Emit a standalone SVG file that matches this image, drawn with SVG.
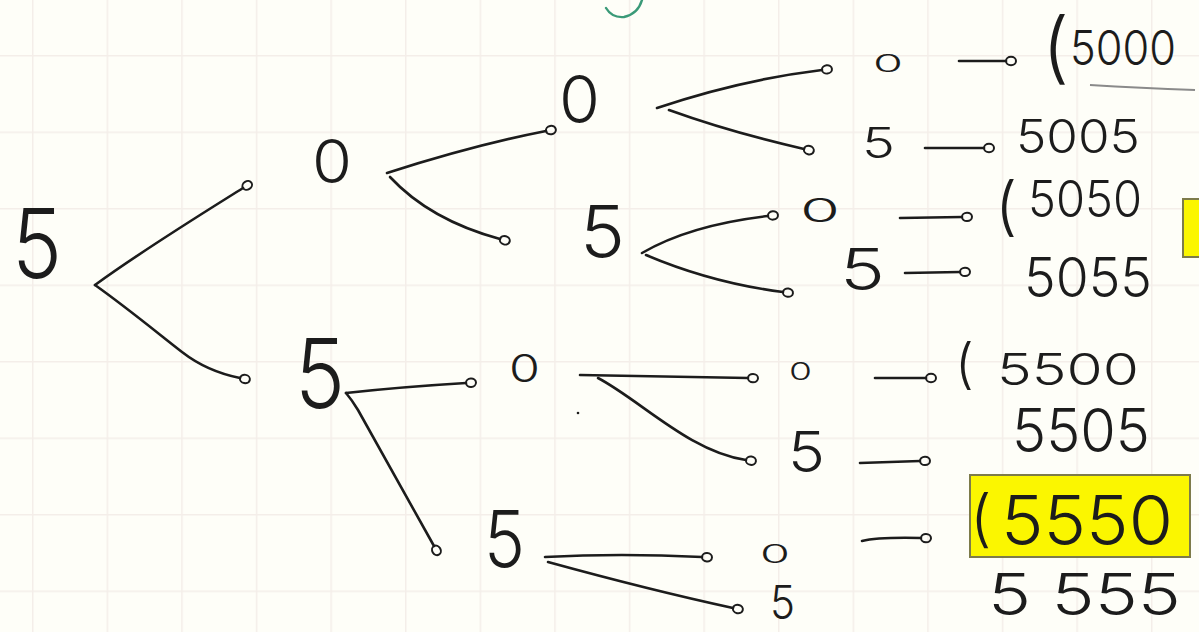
<svg xmlns="http://www.w3.org/2000/svg" width="1199" height="632" viewBox="0 0 1199 632">
  <defs>
    <pattern id="grid" patternUnits="userSpaceOnUse" x="32" y="55" width="74.6" height="76.5">
      <path d="M0,0 V76.5 M0,0 H74.6" stroke="#f4eee9" stroke-width="3" fill="none"/>
    </pattern>
    <marker id="loop" markerUnits="userSpaceOnUse" markerWidth="14" markerHeight="14" viewBox="0 0 14 14" refX="2" refY="7" orient="auto">
      <ellipse cx="7" cy="7" rx="5" ry="4.2" fill="none" stroke="#1c1c1c" stroke-width="2"/>
    </marker>
    <style>
      .hw { font-family: Inter, "Open Sans", "Liberation Sans", sans-serif; font-weight: 300; fill: #1c1c1c; }
      .edge { fill: none; stroke: #1c1c1c; stroke-width: 2.6; stroke-linecap: round; marker-end: url(#loop); }
    </style>
  </defs>

  <rect width="1199" height="632" fill="#fefef8"/>
  <rect width="1199" height="632" fill="url(#grid)"/>

  <!-- stray green stroke at top -->
  <path d="M606,8 Q612,18 624,17 Q638,14 642,0" fill="none" stroke="#3a9a78" stroke-width="2.4" stroke-linecap="round"/>

  <g id="connectors">
    <path class="edge" d="M95,285 C140,252 200,215 243,188"/>
    <path class="edge" d="M95,285 C130,310 160,335 182,352 C200,366 220,374 240,378"/>
    <path class="edge" d="M387,173 C440,156 500,140 546,131"/>
    <path class="edge" d="M390,177 Q430,220 500,239"/>
    <path class="edge" d="M657,108 Q740,80 822,70"/>
    <path class="edge" d="M669,110 Q730,132 804,149"/>
    <path class="edge" d="M642,253 Q690,225 768,216"/>
    <path class="edge" d="M646,255 Q712,283 783,292"/>
    <path class="edge" d="M346,393 Q400,387 466,383"/>
    <path class="edge" d="M346,393 Q352,400 358,410 L434,546"/>
    <path class="edge" d="M580,375 L748,378"/>
    <path class="edge" d="M598,378 C640,400 690,452 746,460"/>
    <path class="edge" d="M545,557 Q620,553 702,557"/>
    <path class="edge" d="M548,562 Q650,590 733,608"/>
    <path class="edge" d="M959,61 L1006,61"/>
    <path class="edge" d="M925,148 L984,148"/>
    <path class="edge" d="M900,218 L962,217"/>
    <path class="edge" d="M905,273 L960,272"/>
    <path class="edge" d="M875,378 L926,378"/>
    <path class="edge" d="M860,463 L920,461"/>
    <path class="edge" d="M862,541 Q878,537 921,538"/>
  </g>

  <g id="node-root"><text class="hw" x="12" y="278" font-size="96" textLength="50" lengthAdjust="spacingAndGlyphs">5</text></g>
  <g id="node-0"><text class="hw" x="312" y="183" font-size="60" textLength="40" lengthAdjust="spacingAndGlyphs">0</text></g>
  <g id="node-5"><text class="hw" x="295" y="408" font-size="96" textLength="50" lengthAdjust="spacingAndGlyphs">5</text></g>
  <g id="node-00"><text class="hw" x="559" y="123" font-size="66" textLength="41" lengthAdjust="spacingAndGlyphs">0</text></g>
  <g id="node-05"><text class="hw" x="580" y="257" font-size="72" textLength="45" lengthAdjust="spacingAndGlyphs">5</text></g>
  <g id="node-50"><text class="hw" x="509" y="382" font-size="38" textLength="31" lengthAdjust="spacingAndGlyphs">0</text></g>
  <g id="node-55"><text class="hw" x="484" y="567" font-size="78" textLength="41" lengthAdjust="spacingAndGlyphs">5</text></g>

  <g id="node-000"><text class="hw" x="873" y="72" font-size="24" textLength="30" lengthAdjust="spacingAndGlyphs">0</text></g>
  <g id="node-005"><text class="hw" x="862" y="158" font-size="42" textLength="33" lengthAdjust="spacingAndGlyphs">5</text></g>
  <g id="node-050"><text class="hw" x="800" y="222" font-size="33" textLength="40" lengthAdjust="spacingAndGlyphs">0</text></g>
  <g id="node-055"><text class="hw" x="840" y="290" font-size="58" textLength="45" lengthAdjust="spacingAndGlyphs">5</text></g>
  <g id="node-500"><text class="hw" x="789" y="380" font-size="24" textLength="23" lengthAdjust="spacingAndGlyphs">0</text></g>
  <g id="node-505"><text class="hw" x="788" y="472" font-size="56" textLength="37" lengthAdjust="spacingAndGlyphs">5</text></g>
  <g id="node-550"><text class="hw" x="760" y="563" font-size="25" textLength="30" lengthAdjust="spacingAndGlyphs">0</text></g>
  <g id="node-555"><text class="hw" x="770" y="619" font-size="46" textLength="25" lengthAdjust="spacingAndGlyphs">5</text></g>

  <g id="result-5000">
    <text class="hw"><tspan x="1042" y="74" font-size="78">(</tspan><tspan x="1070" y="65" font-size="48" textLength="106" lengthAdjust="spacingAndGlyphs">5000</tspan></text>
    <path d="M1090,85 Q1140,88 1195,90" fill="none" stroke="#8a8a8a" stroke-width="2"/>
  </g>
  <g id="result-5005"><text class="hw" x="1016" y="153" font-size="46" textLength="124" lengthAdjust="spacingAndGlyphs">5005</text></g>
  <g id="result-5050"><text class="hw"><tspan x="995" y="228" font-size="64">(</tspan><tspan x="1028" y="217" font-size="50" textLength="114" lengthAdjust="spacingAndGlyphs">5050</tspan></text></g>
  <g id="result-5055"><text class="hw" x="1024" y="297" font-size="55" textLength="128" lengthAdjust="spacingAndGlyphs">5055</text></g>
  <g id="result-5500"><text class="hw"><tspan x="955" y="383" font-size="54">(</tspan><tspan x="997" y="385" font-size="44" textLength="142" lengthAdjust="spacingAndGlyphs">5500</tspan></text></g>
  <g id="result-5505"><text class="hw" x="1012" y="452" font-size="60" textLength="138" lengthAdjust="spacingAndGlyphs">5505</text></g>
  <g id="result-5550">
    <rect x="970" y="475" width="220" height="82" fill="#fbf600" stroke="#7d7b4a" stroke-width="2"/>
    <text class="hw"><tspan x="970" y="540" font-size="62">(</tspan><tspan x="1001" y="545" font-size="68" textLength="172" lengthAdjust="spacingAndGlyphs">5550</tspan></text>
  </g>
  <g id="result-5555"><text class="hw" x="988" y="615" font-size="58" textLength="193" lengthAdjust="spacingAndGlyphs">5 555</text></g>

  <!-- partial highlight at right edge -->
  <rect x="1183" y="199" width="20" height="58" fill="#fbf600" stroke="#7d7b4a" stroke-width="2"/>
  <circle cx="578" cy="413" r="1.3" fill="#1c1c1c"/>
</svg>
